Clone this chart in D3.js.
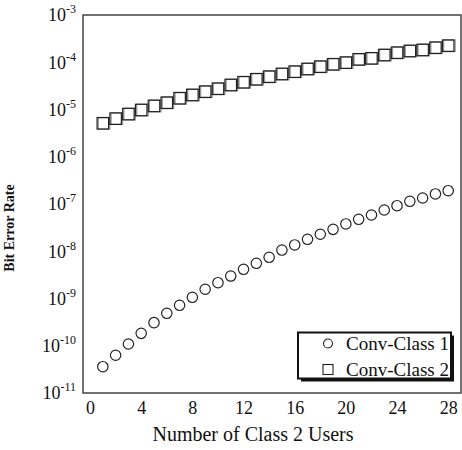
<!DOCTYPE html>
<html>
<head>
<meta charset="utf-8">
<script src="https://cdn.jsdelivr.net/npm/d3@7"></script>
<style>
  body { margin: 0; background: #fff; }
  svg, svg text { font-family: "Liberation Serif", "DejaVu Serif", serif; }
</style>
</head>
<body>
<div id="chart"></div>
<script>
// number of class 2 users
const users = d3.range(1, 29);

// bit error rate, conventional scheme, class 1 users
const convClass1 = [
  3.6e-11, 6.3e-11, 1.09e-10, 1.83e-10, 3.08e-10, 4.86e-10, 7.18e-10,
  1.06e-9, 1.57e-9, 2.16e-9, 2.99e-9, 4.15e-9, 5.56e-9, 7.45e-9,
  1.06e-8, 1.36e-8, 1.79e-8, 2.29e-8, 2.91e-8, 3.78e-8, 4.74e-8,
  5.85e-8, 7.46e-8, 9.2e-8, 1.14e-7, 1.34e-7, 1.63e-7, 1.91e-7
];

// bit error rate, conventional scheme, class 2 users
const convClass2 = [
  5.1e-6, 6.4e-6, 8.0e-6, 9.75e-6, 1.19e-5, 1.39e-5, 1.73e-5,
  2.03e-5, 2.38e-5, 2.75e-5, 3.3e-5, 3.77e-5, 4.36e-5, 4.94e-5,
  5.64e-5, 6.31e-5, 7.2e-5, 8.05e-5, 9.05e-5, 9.8e-5, 1.15e-4,
  1.21e-4, 1.42e-4, 1.59e-4, 1.73e-4, 1.82e-4, 2.03e-4, 2.24e-4
];

const xTicks = [0, 4, 8, 12, 16, 20, 24, 28];
const yExponents = [-3, -4, -5, -6, -7, -8, -9, -10, -11];
const legendLabels = ["Conv-Class 1", "Conv-Class 2"];

const W = 462, H = 450;
const margin = { top: 15, right: 1, bottom: 57, left: 83 };
const width = W - margin.left - margin.right,
  height = H - margin.top - margin.bottom;

const x = d3.scaleLinear().domain([-0.55, 29.0]).range([0, width]);
const y = d3.scaleLog().domain([1e-11, 1e-3]).range([height, 0]);

const svg = d3.select("#chart").append("svg")
  .attr("width", W)
  .attr("height", H);

const g = svg.append("g")
  .attr("transform", "translate(" + margin.left + "," + margin.top + ")");

// frame
g.append("rect")
  .attr("width", width)
  .attr("height", height)
  .attr("fill", "none")
  .attr("stroke", "#444")
  .attr("stroke-width", 1.5);

// x axis
const xAxis = g.append("g")
  .attr("transform", "translate(0," + height + ")")
  .call(d3.axisBottom(x).tickValues(xTicks).tickSize(0).tickPadding(8))
  .attr("font-family", null)
  .attr("font-size", 18);
xAxis.select(".domain").remove();
xAxis.selectAll("text").attr("fill", "#111");

// y axis, labels as 10^n
const yAxis = g.append("g")
  .call(d3.axisLeft(y)
    .tickValues(yExponents.map(e => Math.pow(10, e)))
    .tickSize(0).tickPadding(7)
    .tickFormat(""))
  .attr("font-family", null)
  .attr("font-size", 18);
yAxis.select(".domain").remove();
yAxis.selectAll(".tick text").each(function (d) {
  const t = d3.select(this)
    .attr("fill", "#111")
    .text(null);
  t.append("tspan").text("10");
  t.append("tspan")
    .attr("dy", -8)
    .attr("font-size", 12)
    .text(Math.round(Math.log10(d)));
});

// axis titles
svg.append("text")
  .attr("x", 253)
  .attr("y", 441)
  .attr("text-anchor", "middle")
  .attr("font-size", 20)
  .attr("fill", "#111")
  .text("Number of Class 2 Users");

svg.append("text")
  .attr("transform", "translate(14,228) rotate(-90)")
  .attr("text-anchor", "middle")
  .attr("font-size", 14)
  .attr("font-weight", "bold")
  .attr("fill", "#111")
  .text("Bit Error Rate");

// class 2 squares (grey echo + black outline)
const sq = 11.5;
const squares = g.append("g").selectAll("g")
  .data(users.map((u, i) => ({ u: u, v: convClass2[i] })))
  .enter().append("g")
  .attr("transform", d => "translate(" + x(d.u) + "," + y(d.v) + ")");
squares.append("rect")
  .attr("x", -sq / 2 + 1.2).attr("y", -sq / 2)
  .attr("width", sq).attr("height", sq)
  .attr("fill", "none").attr("stroke", "#999").attr("stroke-width", 1.3);
squares.append("rect")
  .attr("x", -sq / 2).attr("y", -sq / 2)
  .attr("width", sq).attr("height", sq)
  .attr("fill", "none").attr("stroke", "#222").attr("stroke-width", 1.2);

// class 1 circles
g.append("g").selectAll("circle")
  .data(users.map((u, i) => ({ u: u, v: convClass1[i] })))
  .enter().append("circle")
  .attr("cx", d => x(d.u))
  .attr("cy", d => y(d.v))
  .attr("r", 5.2)
  .attr("fill", "none")
  .attr("stroke", "#222")
  .attr("stroke-width", 1.2);

// legend with drop shadow
const legend = svg.append("g").attr("transform", "translate(298,332.5)");
legend.append("rect")
  .attr("x", 3).attr("y", 3)
  .attr("width", 153).attr("height", 46)
  .attr("fill", "#111");
legend.append("rect")
  .attr("width", 153).attr("height", 46)
  .attr("fill", "#fff")
  .attr("stroke", "#111")
  .attr("stroke-width", 2);

const items = legend.selectAll(".item")
  .data(legendLabels)
  .enter().append("g")
  .attr("class", "item")
  .attr("transform", (d, i) => "translate(0," + (11 + i * 26) + ")");
items.filter((d, i) => i === 0).append("circle")
  .attr("cx", 30).attr("r", 4.5)
  .attr("fill", "none").attr("stroke", "#222").attr("stroke-width", 1.1);
items.filter((d, i) => i === 1).append("rect")
  .attr("x", 25).attr("y", -5).attr("width", 10).attr("height", 10)
  .attr("fill", "none").attr("stroke", "#222").attr("stroke-width", 1.1);
items.append("text")
  .attr("x", 48)
  .attr("dy", "0.35em")
  .attr("font-size", 19)
  .attr("fill", "#111")
  .text(d => d);
</script>
</body>
</html>
